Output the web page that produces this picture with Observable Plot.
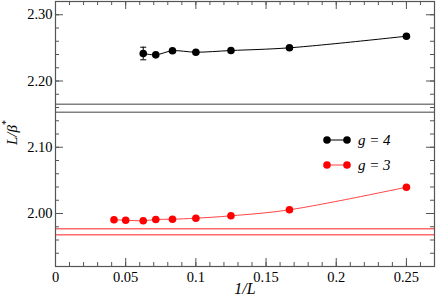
<!DOCTYPE html>
<html><head><meta charset="utf-8">
<script src="https://cdn.jsdelivr.net/npm/d3@7"></script>
<script src="https://cdn.jsdelivr.net/npm/@observablehq/plot@0.6"></script>
<style>
body{margin:0;background:#fff;font-family:"Liberation Serif",serif}
svg text{font-family:"Liberation Serif",serif !important}
</style>
</head><body><div id="chart"></div>
<script>
// Data (1/L vs L/beta*)
const invL4 = [1/16, 1/14, 1/12, 1/10, 1/8, 1/6, 1/4];
const g4 = [2.2415, 2.2395, 2.2456, 2.2435, 2.2460, 2.2501, 2.2676];
const g4err = [0.0095, 0, 0, 0, 0, 0, 0];
const invL3 = [1/24, 1/20, 1/16, 1/14, 1/12, 1/10, 1/8, 1/6, 1/4];
const g3 = [1.9905, 1.9899, 1.9890, 1.9910, 1.9914, 1.9929, 1.9965, 2.0056, 2.0397];
const band4 = [2.1529, 2.1650];
const band3 = [1.9679, 1.9769];
const xMajor = [0, 0.05, 0.1, 0.15, 0.2, 0.25];
const xMajorLabels = ["0", "0.05", "0.1", "0.15", "0.2", "0.25"];
const xMinor = d3.range(0, 28).map(i => i / 100);
const yMajor = [2.0, 2.1, 2.2, 2.3];
const yMajorLabels = ["2.00", "2.10", "2.20", "2.30"];
const yMinor = d3.range(96, 117).map(i => i * 0.02);
const legendLabels = ["g = 4", "g = 3"];

const W = 436, H = 297, mL = 55, mR = 2, mT = 1, mB = 31;
const fw = W - mL - mR, fh = H - mT - mB;
const rows4 = invL4.map((x, i) => ({x, y: g4[i], e: g4err[i]}));
const rows3 = invL3.map((x, i) => ({x, y: g3[i]}));
const capSymbol = {draw(ctx, size) { const r = Math.sqrt(size / Math.PI); ctx.moveTo(-r, 0); ctx.lineTo(r, 0); }};
const tickColor = "#555";
const font = "Liberation Serif, serif";

const plot = Plot.plot({
  width: W, height: H,
  marginLeft: mL, marginRight: mR, marginTop: mT, marginBottom: mB,
  x: {domain: [0, 0.27]},
  y: {domain: [1.92, 2.32]},
  style: {fontFamily: font, fontSize: "14px", color: "#000", background: "#fff", overflow: "visible"},
  marks: [
    Plot.ruleY(band4, {stroke: "#808080", strokeWidth: 1.5}),
    Plot.ruleY(band3, {stroke: "#ff6b6b", strokeWidth: 1.5}),
    Plot.line(rows4, {x: "x", y: "y", stroke: "#000", strokeWidth: 1, curve: "catmull-rom"}),
    Plot.ruleX(rows4.filter(d => d.e > 0), {x: "x", y1: d => d.y - d.e, y2: d => d.y + d.e, stroke: "#000", strokeWidth: 1}),
    Plot.dot(rows4.filter(d => d.e > 0), {x: "x", y: d => d.y - d.e, symbol: capSymbol, r: 3, stroke: "#000", strokeWidth: 1}),
    Plot.dot(rows4.filter(d => d.e > 0), {x: "x", y: d => d.y + d.e, symbol: capSymbol, r: 3, stroke: "#000", strokeWidth: 1}),
    Plot.dot(rows4, {x: "x", y: "y", r: 3.8, fill: "#000"}),
    Plot.line(rows3, {x: "x", y: "y", stroke: "#ff4444", strokeWidth: 1, curve: "catmull-rom"}),
    Plot.dot(rows3, {x: "x", y: "y", r: 3.8, fill: "#ff0000"}),
    // inward ticks, bottom/top
    Plot.tickX(xMajor, {x: d => d, insetTop: fh - 8, stroke: tickColor}),
    Plot.tickX(xMinor, {x: d => d, insetTop: fh - 4, stroke: tickColor}),
    Plot.tickX(xMajor, {x: d => d, insetBottom: fh - 8, stroke: tickColor}),
    Plot.tickX(xMinor, {x: d => d, insetBottom: fh - 4, stroke: tickColor}),
    // inward ticks, left/right
    Plot.tickY(yMajor, {y: d => d, insetRight: fw - 8, stroke: tickColor}),
    Plot.tickY(yMinor, {y: d => d, insetRight: fw - 4, stroke: tickColor}),
    Plot.tickY(yMajor, {y: d => d, insetLeft: fw - 8, stroke: tickColor}),
    Plot.tickY(yMinor, {y: d => d, insetLeft: fw - 4, stroke: tickColor}),
    Plot.frame({stroke: tickColor, strokeWidth: 1.2}),
    Plot.axisX(xMajor, {tickSize: 0, tickPadding: 5, label: null, fontSize: 14.5,
      tickFormat: d => xMajorLabels[xMajor.indexOf(d)]}),
    Plot.axisY(yMajor, {tickSize: 0, tickPadding: 3, label: null, fontSize: 14.5,
      tickFormat: d => yMajorLabels[yMajor.indexOf(d)]}),
    Plot.text(["1/L"], {text: d => d, frameAnchor: "bottom", dy: 22, fontStyle: "italic", fontSize: 16, lineAnchor: "middle"})
  ]
});

const svg = d3.select(plot);
// Y axis label with superscript
const yl = svg.append("text")
  .attr("transform", "translate(16.5,145) rotate(-90)")
  .attr("text-anchor", "start")
  .attr("font-size", 15)
  .attr("font-style", "italic");
yl.append("tspan").text("L/β");
yl.append("tspan").attr("dy", -7.5).attr("font-size", 10).attr("font-style", "normal").text("*");

// Legend
const leg = svg.append("g").attr("font-size", 15).attr("font-style", "italic").attr("text-anchor", "start");
const legendItems = [
  {label: legendLabels[0], dot: "#000", line: "#000", y: 140},
  {label: legendLabels[1], dot: "#ff0000", line: "#ff4444", y: 165}
];
for (const it of legendItems) {
  leg.append("line").attr("x1", 327).attr("x2", 347).attr("y1", it.y).attr("y2", it.y).attr("stroke", it.line).attr("stroke-width", 1);
  leg.append("circle").attr("cx", 327).attr("cy", it.y).attr("r", 3.8).attr("fill", it.dot);
  leg.append("circle").attr("cx", 347).attr("cy", it.y).attr("r", 3.8).attr("fill", it.dot);
  leg.append("text").attr("x", 358).attr("y", it.y + 5).text(it.label);
}
document.getElementById("chart").appendChild(plot);
</script>
</body></html>
